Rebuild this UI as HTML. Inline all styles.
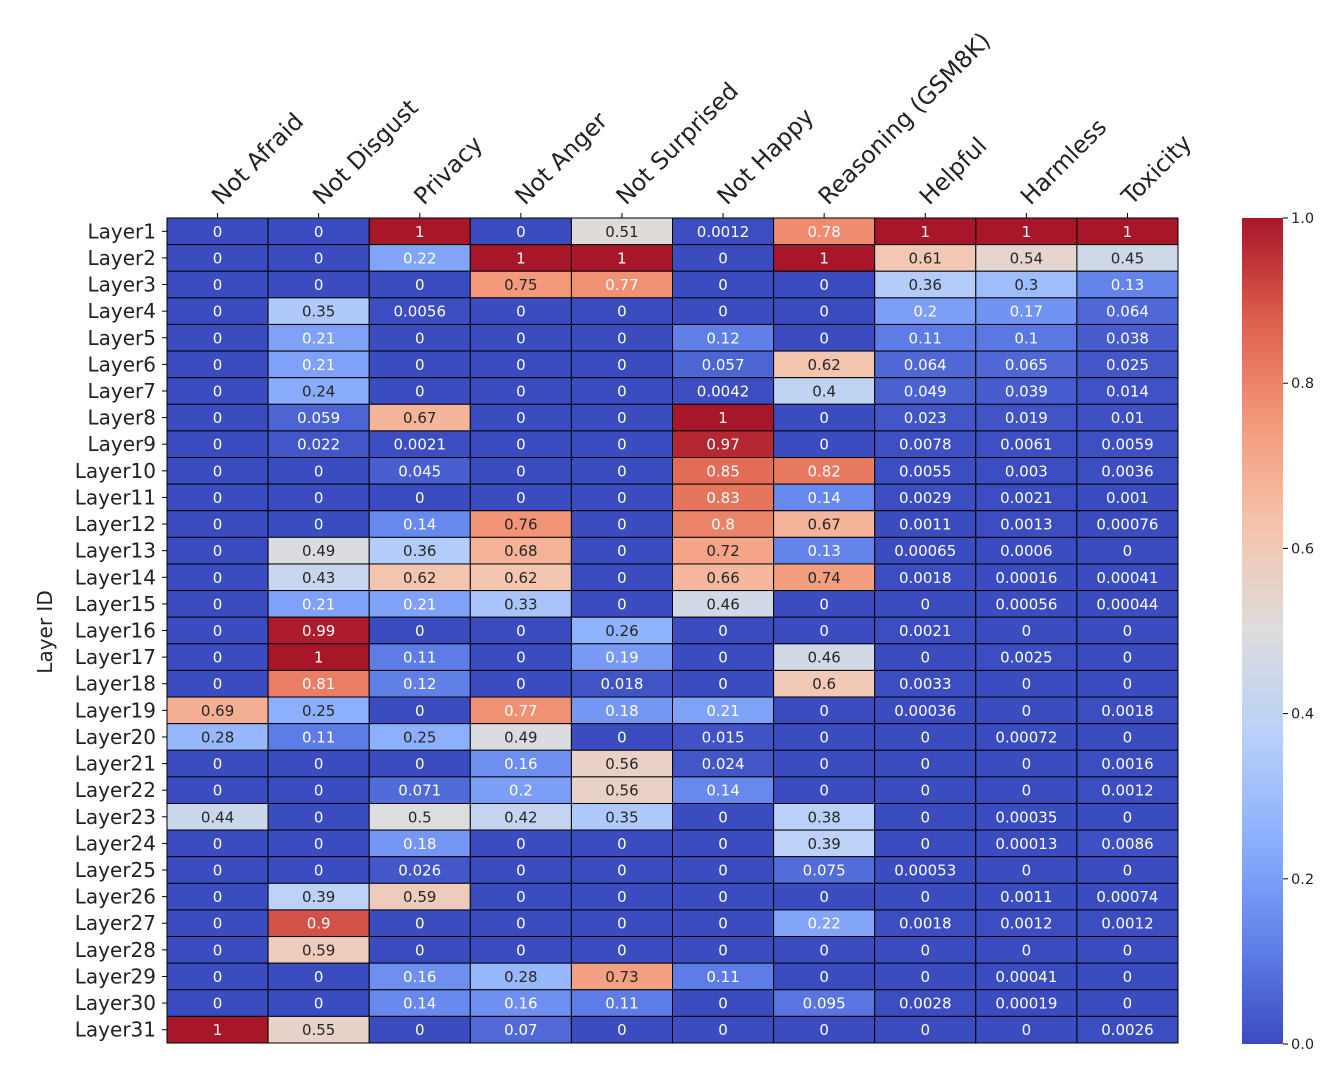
<!DOCTYPE html>
<html><head><meta charset="utf-8"><style>
html,body{margin:0;padding:0;background:#fff;}
svg{display:block;font-family:"DejaVu Sans","Liberation Sans",sans-serif;}
</style></head><body>
<svg id="chart" width="1342" height="1072" xmlns="http://www.w3.org/2000/svg">
<defs><linearGradient id="cbg" x1="0" y1="1" x2="0" y2="0"></linearGradient></defs>
<g id="cells"></g>
<g id="xlab"></g>
<g id="ylab"></g>
<text transform="translate(52,632) rotate(-90)" text-anchor="middle" font-size="20" fill="#222">Layer ID</text>
<g id="cbar"></g>
</svg>
<script>
const categories = ["Not Afraid","Not Disgust","Privacy","Not Anger","Not Surprised","Not Happy","Reasoning (GSM8K)","Helpful","Harmless","Toxicity"];
const layers = Array.from({length:31},(_,i)=>"Layer"+(i+1));
const values = [
[0,0,1,0,0.51,0.0012,0.78,1,1,1],
[0,0,0.22,1,1,0,1,0.61,0.54,0.45],
[0,0,0,0.75,0.77,0,0,0.36,0.3,0.13],
[0,0.35,0.0056,0,0,0,0,0.2,0.17,0.064],
[0,0.21,0,0,0,0.12,0,0.11,0.1,0.038],
[0,0.21,0,0,0,0.057,0.62,0.064,0.065,0.025],
[0,0.24,0,0,0,0.0042,0.4,0.049,0.039,0.014],
[0,0.059,0.67,0,0,1,0,0.023,0.019,0.01],
[0,0.022,0.0021,0,0,0.97,0,0.0078,0.0061,0.0059],
[0,0,0.045,0,0,0.85,0.82,0.0055,0.003,0.0036],
[0,0,0,0,0,0.83,0.14,0.0029,0.0021,0.001],
[0,0,0.14,0.76,0,0.8,0.67,0.0011,0.0013,0.00076],
[0,0.49,0.36,0.68,0,0.72,0.13,0.00065,0.0006,0],
[0,0.43,0.62,0.62,0,0.66,0.74,0.0018,0.00016,0.00041],
[0,0.21,0.21,0.33,0,0.46,0,0,0.00056,0.00044],
[0,0.99,0,0,0.26,0,0,0.0021,0,0],
[0,1,0.11,0,0.19,0,0.46,0,0.0025,0],
[0,0.81,0.12,0,0.018,0,0.6,0.0033,0,0],
[0.69,0.25,0,0.77,0.18,0.21,0,0.00036,0,0.0018],
[0.28,0.11,0.25,0.49,0,0.015,0,0,0.00072,0],
[0,0,0,0.16,0.56,0.024,0,0,0,0.0016],
[0,0,0.071,0.2,0.56,0.14,0,0,0,0.0012],
[0.44,0,0.5,0.42,0.35,0,0.38,0,0.00035,0],
[0,0,0.18,0,0,0,0.39,0,0.00013,0.0086],
[0,0,0.026,0,0,0,0.075,0.00053,0,0],
[0,0.39,0.59,0,0,0,0,0,0.0011,0.00074],
[0,0.9,0,0,0,0,0.22,0.0018,0.0012,0.0012],
[0,0.59,0,0,0,0,0,0,0,0],
[0,0,0.16,0.28,0.73,0.11,0,0,0.00041,0],
[0,0,0.14,0.16,0.11,0,0.095,0.0028,0.00019,0],
[1,0.55,0,0.07,0,0,0,0,0,0.0026]
];
const cbTicks = [0,0.2,0.4,0.6,0.8,1.0];

const NS="http://www.w3.org/2000/svg";
const X0=167,X1=1178,Y0=218,Y1=1043;
const cw=(X1-X0)/categories.length, ch=(Y1-Y0)/layers.length;
const xPos=i=>X0+i*cw, yPos=j=>Y0+j*ch;
const stops=[[59,76,192],[98,130,234],[141,176,254],[184,208,249],[221,221,221],[245,196,173],[244,154,123],[222,96,77],[168,22,42]];
function cmap(v){v=Math.max(0,Math.min(1,v));const t=v*8,i=Math.min(7,Math.floor(t)),f=t-i;
 return stops[i].map((c,k)=>Math.round(c+(stops[i+1][k]-c)*f));}
function lum(c){const l=c.map(x=>{x/=255;return x<=0.03928?x/12.92:Math.pow((x+0.055)/1.055,2.4)});return 0.2126*l[0]+0.7152*l[1]+0.0722*l[2];}
function mk(tag,attrs,parent){const e=document.createElementNS(NS,tag);for(const k in attrs)e.setAttribute(k,attrs[k]);parent.appendChild(e);return e;}

const gc=document.getElementById('cells');
values.forEach((row,j)=>row.forEach((v,i)=>{
 const c=cmap(v);
 const r=mk('rect',{x:xPos(i),y:yPos(j),width:cw,height:ch,fill:`rgb(${c})`,stroke:'#000','stroke-width':1},gc);
 
 
 const t=mk('text',{x:xPos(i)+cw/2,y:yPos(j)+ch/2+5.5,'text-anchor':'middle','font-size':15,fill:lum(c)>0.408?'#262626':'#ffffff'},gc);
 t.textContent=String(v);
 
 
}));
const gx=document.getElementById('xlab');
categories.forEach((n,i)=>{
 const x=xPos(i)+cw/2;
 mk('line',{x1:x,y1:Y0,x2:x,y2:Y0-5,stroke:'#000'},gx);
 const t=mk('text',{transform:`translate(${x+4},${Y0-12}) rotate(-45)`,'font-size':23.5,fill:'#222'},gx);
 t.textContent=n;
 
 
});
const gy=document.getElementById('ylab');
layers.forEach((n,j)=>{
 const y=yPos(j)+ch/2;
 mk('line',{x1:X0,y1:y,x2:X0-5,y2:y,stroke:'#000'},gy);
 const t=mk('text',{x:X0-11,y:y+7,'text-anchor':'end','font-size':20,fill:'#222'},gy);
 t.textContent=n;
 
 
});
const grad=document.getElementById('cbg');
for(let k=0;k<=8;k++)mk('stop',{offset:(k/8),'stop-color':`rgb(${stops[k]})`},grad);
const gb=document.getElementById('cbar');
const CB0=218,CB1=1044,CX=1242,CW=41;
const cbr=mk('rect',{x:CX,y:CB0,width:CW,height:CB1-CB0,fill:'url(#cbg)'},gb);


cbTicks.forEach(v=>{
 const y=CB1-v*(CB1-CB0);
 mk('line',{x1:CX+CW,y1:y,x2:CX+CW+5,y2:y,stroke:'#000'},gb);
 const t=mk('text',{x:CX+CW+8,y:y+5,'font-size':14.5,fill:'#222'},gb);
 t.textContent=v.toFixed(1);
 
 
});
</script>
</body></html>
